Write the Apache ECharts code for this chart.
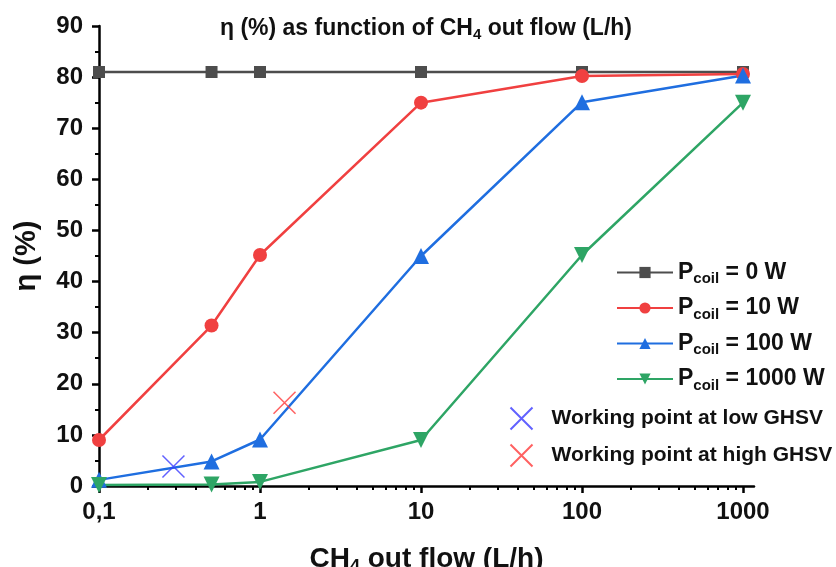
<!DOCTYPE html>
<html>
<head>
<meta charset="utf-8">
<script src="https://cdn.jsdelivr.net/npm/echarts@6/dist/echarts.min.js"></script>
<style>
  html, body { margin: 0; padding: 0; background: #fff; }
  #chart { width: 836px; height: 567px; }
</style>
</head>
<body>
<div id="chart"></div>
<script>
// data
const flow = [0.1, 0.5, 1, 10, 100, 1000];
const eta0W = [81, 81, 81, 81, 81, 81];
const eta10W = [9.0, 31.4, 45.2, 75, 80.2, 80.6];
const eta100W = [1.2, 4.8, 9.1, 45.0, 75.1, 80.3];
const eta1000W = [0.2, 0.3, 0.8, 9.0, 45.2, 75];
const lowGhsv = [[0.29, 3.8]];
const highGhsv = [[1.42, 16.3]];

const xMajorTicks = [0.1, 1, 10, 100, 1000];
const yTicks = [0, 10, 20, 30, 40, 50, 60, 70, 80, 90];

// log minor ticks 2..9 for each decade
const xMinorTicks = [];
[0.1, 1, 10, 100].forEach(d => {
  for (let k = 2; k <= 9; k++) xMinorTicks.push(+(d * k).toPrecision(3));
});

const chart = echarts.init(document.getElementById('chart'));

const font = 'Liberation Sans, Arial, sans-serif';
const pair = (xs, ys) => xs.map((x, i) => [x, ys[i]]);
const crossPath = 'path://M0,0L20,20M20,0L0,20';

const legendLabels = {
  p0: '0 W', p10: '10 W', p100: '100 W', p1000: '1000 W'
};
const symbolSizes = { rect: 12, circle: 14, triangle: 16 };

function lineSeries(name, data, color, symbol, rotate) {
  return {
    name: name,
    type: 'line',
    data: data,
    symbol: symbol,
    symbolSize: symbolSizes[symbol],
    symbolRotate: rotate || 0,
    lineStyle: { color: color, width: 2.5 },
    itemStyle: { color: color },
    z: 3
  };
}

const option = {
  animation: false,
  backgroundColor: '#ffffff',
  title: {
    text: '{a|η (%) as function of CH}{s|4}{a| out flow (L/h)}',
    left: 421,
    textAlign: 'center',
    top: 10,
    textStyle: {
      rich: {
        a: { fontFamily: font, fontWeight: 'bold', fontSize: 23, color: '#111' },
        s: { fontFamily: font, fontWeight: 'bold', fontSize: 15, color: '#111', padding: [12, 0, 0, 0] }
      }
    }
  },
  grid: { left: 99, right: 82, top: 26, bottom: 81, containLabel: false, outerBoundsMode: 'none' },
  legend: [
    {
      data: ['p0', 'p10', 'p100', 'p1000'],
      orient: 'vertical',
      left: 611,
      top: 256,
      itemWidth: 56,
      itemHeight: 14,
      itemGap: 10,
      formatter: n => '{p|P}{s|coil}{p| = ' + legendLabels[n] + '}',
      textStyle: {
        rich: {
          p: { fontFamily: font, fontWeight: 'bold', fontSize: 23, color: '#111' },
          s: { fontFamily: font, fontWeight: 'bold', fontSize: 15, color: '#111', padding: [13, 0, 0, 0] }
        }
      }
    },
    {
      data: ['Working point at low GHSV', 'Working point at high GHSV'],
      orient: 'vertical',
      left: 503,
      top: 400,
      itemWidth: 24,
      itemHeight: 22,
      itemGap: 10,
      textStyle: { fontFamily: font, fontWeight: 'bold', fontSize: 21, color: '#111', padding: [0, 0, 0, 13] }
    }
  ],
  xAxis: [
    {
      type: 'log',
      logBase: 10,
      min: 0.1,
      max: 1170,
      name: '{a|CH}{s|4}{a| out flow (L/h)}',
      nameLocation: 'middle',
      nameGap: 56,
      nameTextStyle: {
        rich: {
          a: { fontFamily: font, fontWeight: 'bold', fontSize: 28, color: '#111' },
          s: { fontFamily: font, fontWeight: 'bold', fontSize: 18, color: '#111', padding: [16, 0, 0, 0] }
        }
      },
      axisLine: { show: true, onZero: false, lineStyle: { color: '#000', width: 2.5 } },
      axisTick: { show: true, customValues: xMajorTicks, length: 7, lineStyle: { color: '#000', width: 2.5 } },
      axisLabel: {
        customValues: xMajorTicks,
        margin: 14,
        fontFamily: font, fontWeight: 'bold', fontSize: 24, color: '#111',
        formatter: v => String(v).replace('.', ',')
      },
      splitLine: { show: false }
    },
    {
      type: 'log',
      logBase: 10,
      min: 0.1,
      max: 1170,
      position: 'bottom',
      axisLine: { show: false },
      axisTick: { show: true, customValues: xMinorTicks, length: 4, lineStyle: { color: '#000', width: 2 } },
      axisLabel: { show: false },
      splitLine: { show: false }
    }
  ],
  yAxis: {
    type: 'value',
    min: 0,
    max: 90,
    interval: 10,
    name: 'η (%)',
    nameLocation: 'middle',
    nameGap: 58,
    nameTextStyle: { fontFamily: font, fontWeight: 'bold', fontSize: 29, color: '#111' },
    axisLine: { show: true, lineStyle: { color: '#000', width: 2.5 } },
    axisTick: { show: true, length: 7, lineStyle: { color: '#000', width: 2.5 } },
    minorTick: { show: true, splitNumber: 2, length: 4, lineStyle: { color: '#000', width: 2 } },
    axisLabel: {
      margin: 16,
      fontFamily: font, fontWeight: 'bold', fontSize: 24, color: '#111',
      formatter: v => (yTicks.indexOf(v) >= 0 ? String(v) : '')
    },
    splitLine: { show: false }
  },
  series: [
    lineSeries('p0', pair(flow, eta0W), '#4d4d4d', 'rect'),
    lineSeries('p10', pair(flow, eta10W), '#f04040', 'circle'),
    lineSeries('p100', pair(flow, eta100W), '#1f6ee0', 'triangle'),
    lineSeries('p1000', pair(flow, eta1000W), '#2ea565', 'triangle', 180),
    {
      name: 'Working point at low GHSV',
      type: 'scatter',
      data: lowGhsv,
      symbol: crossPath,
      symbolSize: 22,
      itemStyle: { color: 'none', borderColor: '#3a3aff', borderWidth: 1.5 },
      z: 4
    },
    {
      name: 'Working point at high GHSV',
      type: 'scatter',
      data: highGhsv,
      symbol: crossPath,
      symbolSize: 22,
      itemStyle: { color: 'none', borderColor: '#ff3a3a', borderWidth: 1.5 },
      z: 4
    }
  ]
};

chart.setOption(option);
</script>
</body>
</html>
